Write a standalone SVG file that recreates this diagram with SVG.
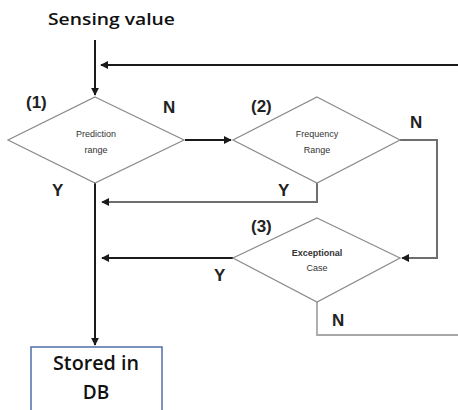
<svg xmlns="http://www.w3.org/2000/svg" width="458" height="410" viewBox="0 0 458 410">
<style>
.dia{fill:#fff;stroke:#8a8a8a;stroke-width:1.2}
.c{fill:none;stroke:#1a1a1a;stroke-width:2}
.g{fill:none;stroke:#6e6e6e;stroke-width:2}
.lg{fill:none;stroke:#a8a8a8;stroke-width:1.8}
.lbl{font-family:"Liberation Sans",Arial,sans-serif;font-weight:bold;font-size:17px;fill:#222}
.small{font-family:"Liberation Sans",Arial,sans-serif;font-size:9px;fill:#333;text-anchor:middle}
.title{font-family:"Open Sans","Liberation Sans",sans-serif;font-weight:600;fill:#111}
.box{fill:#fff;stroke:#4f6fa8;stroke-width:1.5}
</style>
<defs>
<marker id="ah" viewBox="0 0 10 10" refX="9" refY="5" markerWidth="4" markerHeight="4" orient="auto"><path d="M0,0L10,5L0,10z" fill="#1a1a1a"/></marker>
</defs>
<rect width="458" height="410" fill="#fff"/>
<text class="title" x="48" y="25" font-size="17" textLength="127" lengthAdjust="spacingAndGlyphs">Sensing value</text>
<g id="connectors">
<path class="c" d="M95,40V95" marker-end="url(#ah)"/>
<path class="c" d="M458,65H101" marker-end="url(#ah)"/>
<path class="c" d="M185,140H231" marker-end="url(#ah)"/>
<path class="g" d="M400,140H437V258H402" marker-end="url(#ah)"/>
<path class="g" d="M317,183V202H102" marker-end="url(#ah)"/>
<path class="c" d="M233,258H102" marker-end="url(#ah)"/>
<path class="c" d="M95,183V345" marker-end="url(#ah)"/>
<path class="lg" d="M317,302V335H458"/>
</g>
<g id="d1">
<polygon class="dia" points="95,97 184,140 95,183 8,140"/>
<text class="small" x="96" y="137">Prediction</text>
<text class="small" x="96" y="153">range</text>
<text class="lbl" x="26" y="108">(1)</text>
</g>
<g id="d2">
<polygon class="dia" points="317,97 400,140 317,183 233,140"/>
<text class="small" x="317" y="137">Frequency</text>
<text class="small" x="317" y="153">Range</text>
<text class="lbl" x="251" y="112">(2)</text>
</g>
<g id="d3">
<polygon class="dia" points="317,218 400,258 317,302 233,258"/>
<text class="small" x="317" y="256" font-weight="bold">Exceptional</text>
<text class="small" x="317" y="271">Case</text>
<text class="lbl" x="251" y="232">(3)</text>
</g>
<g id="labels">
<text class="lbl" x="163" y="113">N</text>
<text class="lbl" x="410" y="128">N</text>
<text class="lbl" x="52" y="196">Y</text>
<text class="lbl" x="278" y="196">Y</text>
<text class="lbl" x="214" y="281">Y</text>
<text class="lbl" x="332" y="326">N</text>
</g>
<g id="db">
<rect class="box" x="31" y="347" width="131" height="70"/>
<text class="title" x="96" y="370" text-anchor="middle" font-size="19" textLength="86" lengthAdjust="spacingAndGlyphs">Stored in</text>
<text class="title" x="96" y="399" text-anchor="middle" font-size="19">DB</text>
</g>
</svg>
